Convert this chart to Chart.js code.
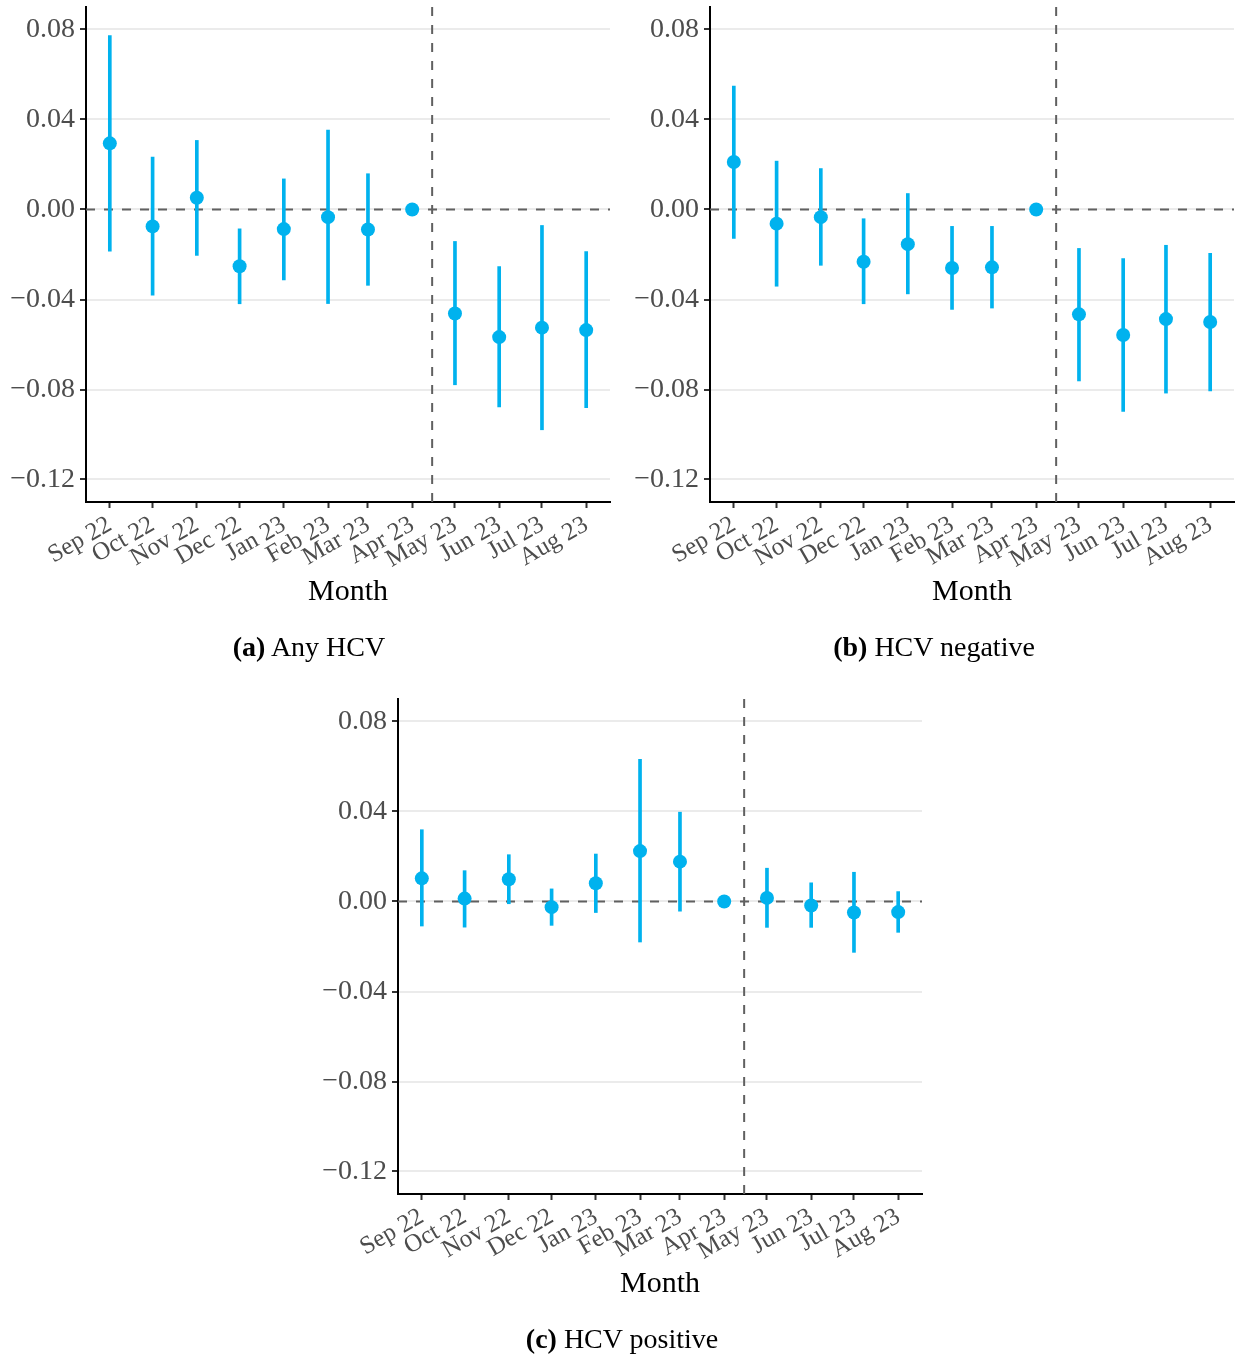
<!DOCTYPE html>
<html>
<head>
<meta charset="utf-8">
<script src="https://cdn.jsdelivr.net/npm/chart.js@4/dist/chart.umd.min.js"></script>
<style>
  html, body { margin: 0; padding: 0; background: #fff; overflow: hidden; }
  body { width: 1235px; height: 1359px; position: relative; font-family: 'Liberation Serif', 'Times New Roman', serif; }
  .panel { position: absolute; width: 620px; height: 580px; }
  .txt { position: absolute; white-space: nowrap; transform: translateX(-50%); color: #000; }
  .xtitle { font-size: 30px; line-height: 30px; }
  .caption { font-size: 28px; line-height: 28px; }
</style>
</head>
<body>
<div class="panel" style="left:0px;top:0px"><canvas id="chartA" width="620" height="580"></canvas></div>
<div class="panel" style="left:624px;top:0px"><canvas id="chartB" width="620" height="580"></canvas></div>
<div class="panel" style="left:312px;top:692px"><canvas id="chartC" width="620" height="580"></canvas></div>

<div class="txt xtitle" style="left:348px;top:575px">Month</div>
<div class="txt xtitle" style="left:972px;top:575px">Month</div>
<div class="txt xtitle" style="left:660px;top:1267px">Month</div>

<div class="txt caption" style="left:309px;top:633px"><b>(a)</b> Any HCV</div>
<div class="txt caption" style="left:934px;top:633px"><b>(b)</b> HCV negative</div>
<div class="txt caption" style="left:622px;top:1325px"><b>(c)</b> HCV positive</div>

<script>
// months shown on the x axis (first day of each month)
const monthStarts = ['2022-09-01', '2022-10-01', '2022-11-01', '2022-12-01', '2023-01-01', '2023-02-01',
                     '2023-03-01', '2023-04-01', '2023-05-01', '2023-06-01', '2023-07-01', '2023-08-01'];
const monthLabels = ['Sep 22', 'Oct 22', 'Nov 22', 'Dec 22', 'Jan 23', 'Feb 23',
                     'Mar 23', 'Apr 23', 'May 23', 'Jun 23', 'Jul 23', 'Aug 23'];
const cutoffDate = '2023-04-15';

// estimates and 95% CI, Apr 23 is the reference month
const anyEst   = [0.0294, -0.0075, 0.0052, -0.0252, -0.0087, -0.0034, -0.0089, 0, -0.0462, -0.0567, -0.0525, -0.0536];
const anyLower = [-0.0185, -0.0381, -0.0204, -0.0419, -0.0313, -0.0418, -0.0337, null, -0.0779, -0.0877, -0.0979, -0.0881];
const anyUpper = [0.0773, 0.0233, 0.0307, -0.0086, 0.0136, 0.0353, 0.0159, null, -0.0142, -0.0254, -0.0071, -0.0187];

const negEst   = [0.0211, -0.0063, -0.0034, -0.0232, -0.0154, -0.0260, -0.0257, 0, -0.0466, -0.0558, -0.0487, -0.0500];
const negLower = [-0.0128, -0.0341, -0.0248, -0.0419, -0.0375, -0.0444, -0.0438, null, -0.0762, -0.0897, -0.0816, -0.0806];
const negUpper = [0.0549, 0.0215, 0.0182, -0.0041, 0.0071, -0.0075, -0.0075, null, -0.0173, -0.0218, -0.0159, -0.0195];

const posEst   = [0.0103, 0.0013, 0.0099, -0.0025, 0.0081, 0.0224, 0.0177, 0, 0.0016, -0.0018, -0.0049, -0.0047];
const posLower = [-0.0109, -0.0114, -0.0010, -0.0106, -0.0049, -0.0180, -0.0043, null, -0.0115, -0.0115, -0.0226, -0.0137];
const posUpper = [0.0319, 0.0137, 0.0208, 0.0056, 0.0211, 0.0632, 0.0397, null, 0.0148, 0.0083, 0.0130, 0.0044];

const yTicks = [-0.12, -0.08, -0.04, 0, 0.04, 0.08];
const yMin = -0.13, yMax = 0.09;

const blue = '#00B2EE';
const refColor = '#606060';
const fontFamily = "'Liberation Serif', 'Times New Roman', serif";

function dayOf(s) {
    return (Date.parse(s) - Date.parse(monthStarts[0])) / 86400000;
}

const monthDays = monthStarts.map(dayOf);
const xPad = 0.05 * (monthDays[monthDays.length - 1] - monthDays[0]);
const xMin = monthDays[0] - xPad;
const xMax = monthDays[monthDays.length - 1] + xPad;

function fmtTick(v) {
    if (Math.abs(v) < 1e-9) return '0.00';
    return (v < 0 ? '\u2212' : '') + Math.abs(v).toFixed(2);
}

function makeChart(id, est, lower, upper) {
    let points = est.map((v, i) => ({ x: monthDays[i], y: v }));
    let bars = [];
    lower.forEach((v, i) => {
        if (v !== null) bars.push({ x: monthDays[i], y: [v, upper[i]] });
    });
    let cut = dayOf(cutoffDate);

    return new Chart(document.getElementById(id), {
        type: 'scatter',
        data: {
            datasets: [{
                type: 'scatter',
                data: points,
                backgroundColor: blue,
                borderWidth: 0,
                pointRadius: 7,
                order: 0,
            }, {
                type: 'bar',
                data: bars,
                backgroundColor: blue,
                borderWidth: 0,
                barThickness: 3,
                order: 1,
            }, {
                type: 'line',
                data: [{ x: xMin, y: 0 }, { x: xMax, y: 0 }],
                borderColor: refColor,
                borderWidth: 2,
                borderDash: [9, 9],
                pointRadius: 0,
                order: 2,
            }, {
                type: 'line',
                data: [{ x: cut, y: yMin }, { x: cut, y: yMax }],
                borderColor: refColor,
                borderWidth: 2,
                borderDash: [9, 9],
                pointRadius: 0,
                order: 2,
            }]
        },
        options: {
            responsive: false,
            animation: false,
            events: [],
            layout: { padding: { top: 6, right: 10, left: 0, bottom: 0 } },
            plugins: {
                legend: { display: false },
                tooltip: { enabled: false },
            },
            scales: {
                x: {
                    type: 'linear',
                    min: xMin,
                    max: xMax,
                    offset: false,
                    afterBuildTicks: s => { s.ticks = monthDays.map(v => ({ value: v })); },
                    afterFit: s => { s.height = 78; s.paddingLeft = 0; s.paddingRight = 0; },
                    ticks: {
                        autoSkip: false,
                        minRotation: 30,
                        maxRotation: 30,
                        padding: 2,
                        color: '#4D4D4D',
                        font: { family: fontFamily, size: 25 },
                        callback: (v, i) => monthLabels[i],
                    },
                    grid: {
                        offset: false,
                        drawOnChartArea: false,
                        drawTicks: true,
                        tickLength: 6,
                        tickWidth: 2,
                        tickColor: '#333333',
                    },
                    border: { color: '#000000', width: 2 },
                },
                y: {
                    min: yMin,
                    max: yMax,
                    afterBuildTicks: s => { s.ticks = yTicks.map(v => ({ value: v })); },
                    afterFit: s => { s.width = 86; s.paddingTop = 0; s.paddingBottom = 0; },
                    ticks: {
                        padding: 5,
                        color: '#4D4D4D',
                        font: { family: fontFamily, size: 28 },
                        callback: v => fmtTick(v),
                    },
                    grid: {
                        offset: false,
                        color: '#EBEBEB',
                        lineWidth: 2,
                        drawTicks: true,
                        tickLength: 6,
                        tickWidth: 2,
                        tickColor: '#333333',
                    },
                    border: { color: '#000000', width: 2 },
                }
            }
        }
    });
}

makeChart('chartA', anyEst, anyLower, anyUpper);
makeChart('chartB', negEst, negLower, negUpper);
makeChart('chartC', posEst, posLower, posUpper);
</script>
</body>
</html>
